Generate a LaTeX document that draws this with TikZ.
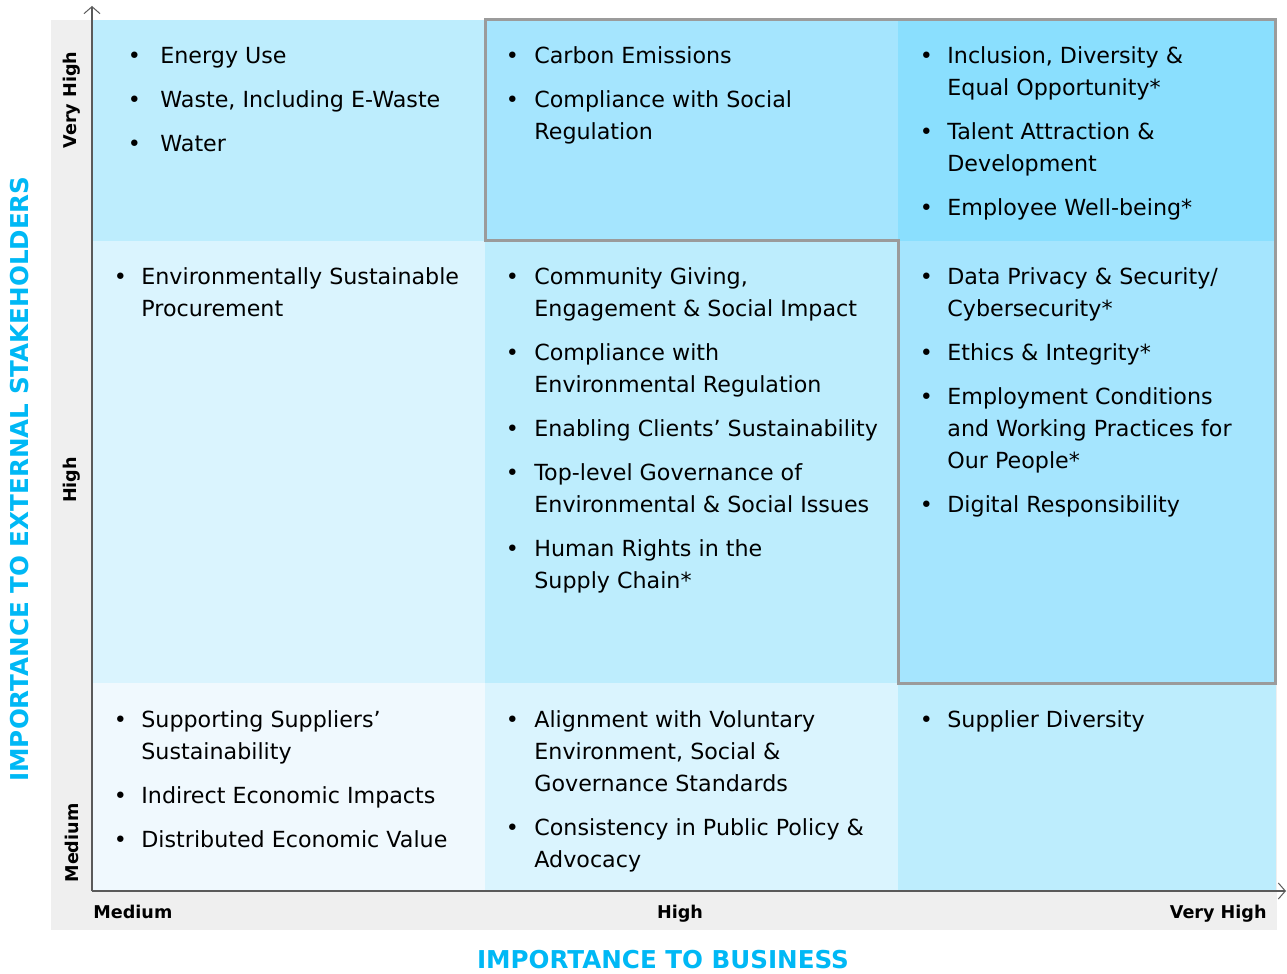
\documentclass[tikz,border=0pt]{standalone}
\usepackage{fontspec}
\setmainfont{DejaVu Sans}
\usetikzlibrary{arrows.meta}
\definecolor{cellA}{HTML}{F0F9FE}
\definecolor{cellB}{HTML}{DAF4FE}
\definecolor{cellC}{HTML}{BDEDFD}
\definecolor{cellD}{HTML}{A5E5FE}
\definecolor{cellE}{HTML}{8ADFFE}
\definecolor{panelgray}{HTML}{EFEFEF}
\definecolor{framegray}{HTML}{9B9B9B}
\definecolor{axisgray}{HTML}{5A5A5A}
\definecolor{titleblue}{HTML}{00B8F5}
\newcommand{\blist}[2]{\begin{tabular}[t]{@{}l@{\hspace{#1}}l@{}}#2\end{tabular}}
\tikzset{
  items/.style={anchor=base west,inner sep=0pt,font=\fontsize{11.1}{16}\selectfont},
  level/.style={inner sep=0pt,font=\fontsize{8.8}{10}\selectfont\bfseries},
  axistitle/.style={inner sep=0pt,text=titleblue,font=\fontsize{12.3}{14}\selectfont\bfseries},
  axis/.style={axisgray,line width=1pt,-{Straight Barb[line width=0.5pt,length=3.5pt,width=8pt]}}
}
\begin{document}
\begin{tikzpicture}[x=0.5pt,y=-0.5pt]
    \useasboundingbox (0,0) rectangle (1287,974);
    \fill[panelgray] (51,20) rectangle (1277,930);
    \fill[cellC] (92,20) rectangle (485,241);
    \fill[cellD] (485,20) rectangle (898,241);
    \fill[cellE] (898,20) rectangle (1276,241);
    \fill[cellB] (92,241) rectangle (485,683);
    \fill[cellC] (485,241) rectangle (898,683);
    \fill[cellD] (898,241) rectangle (1276,683);
    \fill[cellA] (92,683) rectangle (485,891);
    \fill[cellB] (485,683) rectangle (898,891);
    \fill[cellC] (898,683) rectangle (1276,891);
    \draw[framegray,line width=1.5pt] (485,20) -- (1275,20) -- (1275,683) -- (898,683) -- (898,241) -- (485,241) -- cycle;

    \coordinate (origin) at (92,891);
    \coordinate (ytip) at (92,6);
    \coordinate (xtip) at (1286,891);
    \draw[axis] (origin) -- (ytip);
    \draw[axis] (origin) -- (xtip);

    \node[level,rotate=90] (yvh) at (72,100) {Very High};
    \node[level,rotate=90] (yh) at (72,480) {High};
    \node[level,rotate=90] (ym) at (72,843) {Medium};
    \node[level,anchor=base west] (xm) at (93,918) {Medium};
    \node[level,anchor=base] (xh) at (680,918) {High};
    \node[level,anchor=base east] (xvh) at (1267,918) {Very High};
    \node[axistitle,rotate=90] (ytitle) at (20,479) {IMPORTANCE TO EXTERNAL STAKEHOLDERS};
    \node[axistitle] (xtitle) at (663,960) {IMPORTANCE TO BUSINESS};

    \node[items] (tl) at (127.5,64) {\blist{9.7pt}{%
      \textbullet & Energy Use\\[6pt]
      \textbullet & Waste, Including E-Waste\\[6pt]
      \textbullet & Water}};
    \node[items] (tm) at (505.5,64) {\blist{7.7pt}{%
      \textbullet & Carbon Emissions\\[6pt]
      \textbullet & Compliance with Social\\
      & Regulation}};
    \node[items] (tr) at (919.5,64) {\blist{7.2pt}{%
      \textbullet & Inclusion, Diversity \&\\
      & Equal Opportunity*\\[6pt]
      \textbullet & Talent Attraction \&\\
      & Development\\[6pt]
      \textbullet & Employee Well-being*}};
    \node[items] (ml) at (113.5,285) {\blist{7.2pt}{%
      \textbullet & Environmentally Sustainable\\
      & Procurement}};
    \node[items] (mm) at (505.5,285) {\blist{7.7pt}{%
      \textbullet & Community Giving,\\
      & Engagement \& Social Impact\\[6pt]
      \textbullet & Compliance with\\
      & Environmental Regulation\\[6pt]
      \textbullet & Enabling Clients’ Sustainability\\[6pt]
      \textbullet & Top-level Governance of\\
      & Environmental \& Social Issues\\[6pt]
      \textbullet & Human Rights in the\\
      & Supply Chain*}};
    \node[items] (mr) at (919.5,285) {\blist{7.2pt}{%
      \textbullet & Data Privacy \& Security/\\
      & Cybersecurity*\\[6pt]
      \textbullet & Ethics \& Integrity*\\[6pt]
      \textbullet & Employment Conditions\\
      & and Working Practices for\\
      & Our People*\\[6pt]
      \textbullet & Digital Responsibility}};
    \node[items] (bl) at (113.5,727) {\blist{7.2pt}{%
      \textbullet & Supporting Suppliers’\\
      & Sustainability\\[6pt]
      \textbullet & Indirect Economic Impacts\\[6pt]
      \textbullet & Distributed Economic Value}};
    \node[items] (bm) at (505.5,727) {\blist{7.7pt}{%
      \textbullet & Alignment with Voluntary\\
      & Environment, Social \&\\
      & Governance Standards\\[6pt]
      \textbullet & Consistency in Public Policy \&\\
      & Advocacy}};
    \node[items] (br) at (919.5,727) {\blist{7.2pt}{%
      \textbullet & Supplier Diversity}};
\end{tikzpicture}
\end{document}
